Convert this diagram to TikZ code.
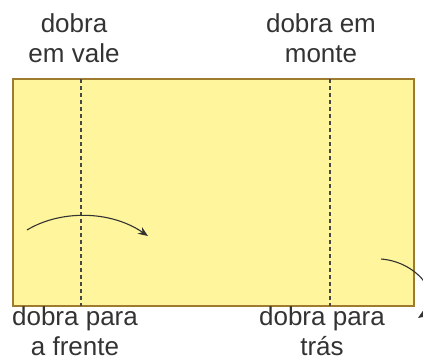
\documentclass[tikz,border=0pt]{standalone}
\usepackage{fontspec}
\setmainfont{Liberation Sans}
\usetikzlibrary{arrows.meta,positioning}
\definecolor{paper}{HTML}{FFF59C}
\definecolor{paperedge}{HTML}{9E7B2F}
\definecolor{ink}{HTML}{333333}

\begin{document}
\begin{tikzpicture}[
  x=1pt, y=-1pt,
  font=\fontsize{26}{30}\selectfont,
  >={Stealth[length=10pt, width=8pt]},
  sheet/.style={draw=paperedge, fill=paper, line width=2pt},
  fold/.style={draw=ink!90, dash pattern=on 4pt off 3pt, line width=1.1pt},
  lbl/.style={text=ink, align=center, inner sep=0pt, anchor=base},
  turn/.style={->, draw=ink, line width=1.1pt},
]
\useasboundingbox (0,0) rectangle (423,360);

\def\lx{81}  \def\rx{330}
\def\ytop{79}  \def\ybot{306}

% sheet of paper
\draw[sheet] (13,\ytop) rectangle (414,\ybot);

% fold lines
\coordinate (lt) at (\lx,\ytop);  \coordinate (lb) at (\lx,\ybot);
\coordinate (rt) at (\rx,\ytop);  \coordinate (rb) at (\rx,\ybot);
\draw[fold] (lt) -- (lb);
\draw[fold] (rt) -- (rb);

% labels (base = last line)
\node[lbl] (vale) at (74,62) {dobra\\em vale};
\node[lbl] (monte) at (321,62) {dobra em\\monte};
\node[lbl] (frente) at (75,355) {dobra para\\a frente};
\node[lbl] (tras) at (322,355) {dobra para\\trás};

% --- turning arrows ---
\coordinate (frs) at (27,230);  \coordinate (fre) at (148,236);
\draw[turn] (frs) .. controls (60,210) and (110,210) .. (fre);
\begin{scope}
  \clip (0,0) rectangle (423,360);
  \coordinate (trs) at (381,259); \coordinate (tre) at (418,318);
  \draw[turn] (trs) .. controls (420,262) and (445,300) .. (tre);
\end{scope}

\end{tikzpicture}
\end{document}
